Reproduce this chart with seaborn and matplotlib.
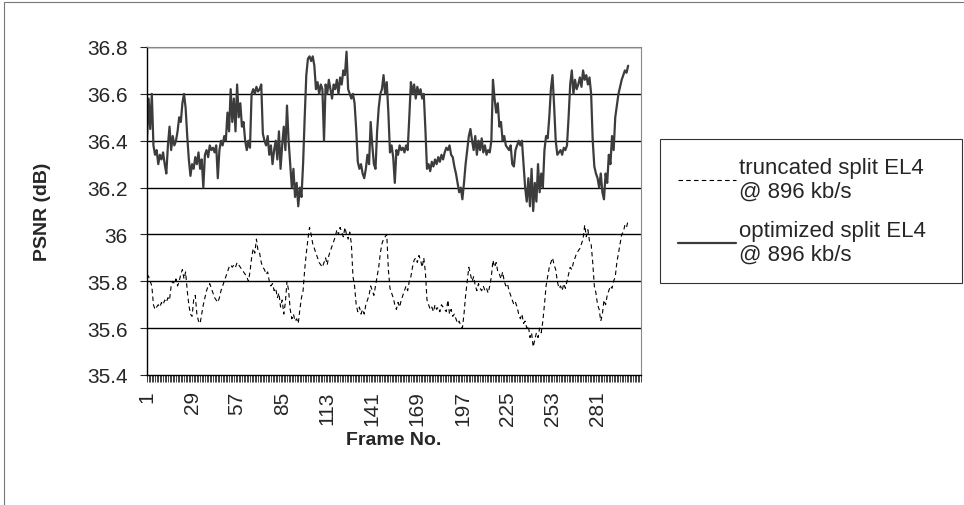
import numpy as np
import pandas as pd
import seaborn as sns
from matplotlib import pyplot as plt
from matplotlib.patches import Rectangle
from matplotlib.ticker import FuncFormatter

# PSNR per frame
optimized = [
    36.40, 36.58, 36.45, 36.60, 36.38, 36.34, 36.36, 36.30, 36.34, 36.32,
    36.35, 36.30, 36.26, 36.38, 36.46, 36.36, 36.42, 36.38, 36.40, 36.44,
    36.50, 36.48, 36.56, 36.60, 36.54, 36.42, 36.32, 36.25, 36.30, 36.28,
    36.33, 36.30, 36.35, 36.28, 36.32, 36.20, 36.34, 36.36, 36.33, 36.38,
    36.36, 36.37, 36.35, 36.38, 36.24, 36.36, 36.40, 36.38, 36.42, 36.40,
    36.52, 36.44, 36.62, 36.48, 36.58, 36.44, 36.64, 36.50, 36.56, 36.46,
    36.48, 36.40, 36.36, 36.40, 36.37, 36.60, 36.62, 36.60, 36.63, 36.61,
    36.62, 36.64, 36.43, 36.40, 36.38, 36.42, 36.34, 36.38, 36.30, 36.36,
    36.40, 36.32, 36.44, 36.28, 36.38, 36.46, 36.36, 36.55, 36.40, 36.30,
    36.20, 36.28, 36.16, 36.22, 36.12, 36.20, 36.16, 36.30, 36.50, 36.68,
    36.75, 36.76, 36.74, 36.76, 36.72, 36.62, 36.65, 36.60, 36.64, 36.62,
    36.40, 36.64, 36.60, 36.66, 36.62, 36.58, 36.64, 36.62, 36.66, 36.60,
    36.67, 36.64, 36.70, 36.68, 36.78, 36.62, 36.60, 36.58, 36.60, 36.56,
    36.45, 36.31, 36.28, 36.30, 36.26, 36.24, 36.28, 36.34, 36.30, 36.48,
    36.38, 36.30, 36.28, 36.44, 36.54, 36.60, 36.62, 36.68, 36.60, 36.65,
    36.52, 36.35, 36.38, 36.33, 36.22, 36.36, 36.34, 36.38, 36.36, 36.37,
    36.35, 36.38, 36.36, 36.50, 36.65, 36.60, 36.64, 36.58, 36.63, 36.60,
    36.62, 36.58, 36.60, 36.45, 36.28, 36.30, 36.27, 36.31, 36.29, 36.32,
    36.30, 36.33, 36.31, 36.34, 36.32, 36.35, 36.37, 36.36, 36.38, 36.34,
    36.33, 36.29, 36.26, 36.22, 36.18, 36.20, 36.15, 36.22, 36.30, 36.36,
    36.42, 36.45, 36.40, 36.36, 36.42, 36.34, 36.40, 36.36, 36.41, 36.35,
    36.38, 36.34, 36.36, 36.35, 36.40, 36.66, 36.58, 36.52, 36.56, 36.46,
    36.48, 36.40, 36.42, 36.38, 36.37, 36.36, 36.38, 36.30, 36.29, 36.36,
    36.38, 36.40, 36.38, 36.40, 36.30, 36.20, 36.14, 36.24, 36.12, 36.28,
    36.10, 36.22, 36.14, 36.30, 36.18, 36.26, 36.20, 36.36, 36.42, 36.41,
    36.50, 36.62, 36.68, 36.55, 36.40, 36.34, 36.35, 36.36, 36.34, 36.37,
    36.36, 36.38, 36.50, 36.64, 36.70, 36.60, 36.66, 36.62, 36.64, 36.67,
    36.63, 36.70, 36.66, 36.68, 36.64, 36.67, 36.60, 36.40, 36.29, 36.26,
    36.24, 36.20, 36.26, 36.18, 36.15, 36.26, 36.22, 36.34, 36.30, 36.42,
    36.36, 36.50, 36.55, 36.60, 36.63, 36.66, 36.68, 36.70, 36.69, 36.72,
]

truncated = [
    35.83, 35.82, 35.80, 35.78, 35.70, 35.68, 35.69, 35.70, 35.69, 35.71,
    35.70, 35.72, 35.71, 35.73, 35.72, 35.78, 35.80, 35.79, 35.81, 35.78,
    35.80, 35.83, 35.85, 35.81, 35.84, 35.76, 35.70, 35.66, 35.65, 35.72,
    35.74, 35.66, 35.63, 35.62, 35.66, 35.70, 35.73, 35.76, 35.78, 35.79,
    35.77, 35.75, 35.73, 35.72, 35.71, 35.73, 35.76, 35.78, 35.80, 35.82,
    35.84, 35.86, 35.87, 35.86, 35.87, 35.86, 35.88, 35.87, 35.86, 35.85,
    35.84, 35.83, 35.82, 35.80, 35.84, 35.90, 35.94, 35.92, 35.98, 35.93,
    35.92, 35.88, 35.86, 35.85, 35.83, 35.84, 35.80, 35.78, 35.79, 35.76,
    35.77, 35.73, 35.75, 35.69, 35.72, 35.66, 35.71, 35.80, 35.76, 35.68,
    35.64, 35.66, 35.63, 35.64, 35.62, 35.68, 35.73, 35.76, 35.85, 35.92,
    35.98, 36.03, 36.00, 35.96, 35.94, 35.92, 35.90, 35.88, 35.87, 35.86,
    35.88, 35.90, 35.87, 35.91, 35.93, 35.95, 35.97, 35.99, 36.02, 36.00,
    36.03, 36.01, 35.99, 36.03, 36.00, 35.98, 36.01, 35.96, 35.82, 35.78,
    35.70, 35.67, 35.69, 35.66, 35.68, 35.66, 35.70, 35.72, 35.74, 35.78,
    35.76, 35.74, 35.78, 35.82, 35.86, 35.92, 35.96, 35.98, 35.99, 36.00,
    35.85, 35.77, 35.75, 35.73, 35.70, 35.68, 35.71, 35.69, 35.72, 35.74,
    35.76, 35.78, 35.76, 35.80, 35.82, 35.86, 35.89, 35.90, 35.88, 35.91,
    35.89, 35.86, 35.90, 35.84, 35.72, 35.70, 35.68, 35.69, 35.67, 35.70,
    35.68, 35.69, 35.67, 35.70, 35.69, 35.68, 35.67, 35.72, 35.66, 35.68,
    35.65, 35.66, 35.64, 35.62, 35.63, 35.61, 35.60, 35.66, 35.74, 35.80,
    35.86, 35.83, 35.80, 35.82, 35.78, 35.76, 35.79, 35.77, 35.76, 35.78,
    35.76, 35.77, 35.75, 35.78, 35.82, 35.89, 35.86, 35.88, 35.84, 35.83,
    35.81, 35.84, 35.80, 35.78, 35.79, 35.76, 35.74, 35.72, 35.70, 35.71,
    35.69, 35.66, 35.64, 35.66, 35.62, 35.63, 35.60, 35.61, 35.56, 35.58,
    35.52, 35.55, 35.58, 35.56, 35.60, 35.58, 35.63, 35.70, 35.78, 35.82,
    35.86, 35.88, 35.90, 35.87, 35.85, 35.80, 35.77, 35.78, 35.76, 35.79,
    35.77, 35.80, 35.83, 35.86, 35.85, 35.88, 35.90, 35.92, 35.93, 35.94,
    35.96, 35.98, 36.04, 35.99, 36.02, 35.97, 35.96, 35.88, 35.78, 35.75,
    35.70, 35.68, 35.63, 35.66, 35.72, 35.70, 35.74, 35.76, 35.78, 35.77,
    35.80, 35.82, 35.88, 35.92, 35.96, 36.00, 36.01, 36.04, 36.03, 36.06,
]

frames = np.arange(1, len(optimized) + 1)
xtick_labels = [1, 29, 57, 85, 113, 141, 169, 197, 225, 253, 281]
yticks = [35.4, 35.6, 35.8, 36.0, 36.2, 36.4, 36.6, 36.8]
label_trunc = 'truncated split EL4\n@ 896 kb/s'
label_opt = 'optimized split EL4\n@ 896 kb/s'

sns.set_style('white')
plt.rcParams['font.family'] = ['Liberation Sans', 'DejaVu Sans']

df = pd.DataFrame({'frame': frames, 'trunc': truncated, 'opt': optimized})

fig = plt.figure(figsize=(9.64, 5.06), dpi=100)
ax = fig.add_axes([147 / 964, 1 - 376 / 506, 494 / 964, 328 / 506])

sns.lineplot(data=df, x='frame', y='trunc', ax=ax, color='black', lw=0.8,
             label=label_trunc)
ax.lines[-1].set_dashes([4, 3])
sns.lineplot(data=df, x='frame', y='opt', ax=ax, color='#3c3c3c', lw=1.6,
             label=label_opt)

ax.set_xlim(1, 308)
ax.set_ylim(35.4, 36.8)
ax.set_yticks(yticks)
ax.yaxis.set_major_formatter(FuncFormatter(lambda v, p: '%g' % round(v, 1)))
ax.set_xticks(xtick_labels)
ax.set_xticklabels([str(v) for v in xtick_labels], rotation=90)
ax.set_xticks(np.arange(1, 309), minor=True)
ax.tick_params(axis='x', which='minor', direction='out', length=5, width=0.6,
               color='#222222', bottom=True)
ax.tick_params(axis='x', which='major', direction='out', length=5, width=0.6,
               labelsize=15, pad=6, bottom=True)
ax.tick_params(axis='y', direction='out', length=5, width=0.8, labelsize=15,
               left=True, pad=9)

for v in yticks[1:]:
    ax.axhline(v, color='black', lw=1.0, zorder=0)

for side in ['top', 'right']:
    ax.spines[side].set_color('#888888')
    ax.spines[side].set_linewidth(0.8)
for side in ['left', 'bottom']:
    ax.spines[side].set_color('black')
    ax.spines[side].set_linewidth(1.0)

ax.set_xlabel('Frame No.', fontsize=14, fontweight='bold', labelpad=4)
ax.set_ylabel('PSNR (dB)', fontsize=14, fontweight='bold', labelpad=26)

ax.legend_.remove()
handles, labels = ax.get_legend_handles_labels()
leg = fig.legend(handles, labels, loc='upper left',
                 bbox_to_anchor=(660 / 964, 1 - 282 / 506, 302 / 964, 142 / 506),
                 mode='expand', fontsize=16, frameon=True, fancybox=False,
                 edgecolor='black', handlelength=2.6, handletextpad=0.15,
                 labelspacing=0.8, borderpad=0.8, borderaxespad=0)
leg.get_frame().set_linewidth(0.8)

# outer chart border
fig.patches.append(Rectangle((4 / 964, -0.01), 1.0, 1 - 3 / 506 + 0.01,
                             transform=fig.transFigure, fill=False,
                             edgecolor='#777777', lw=0.8))

fig.savefig('out.png', dpi=100)
